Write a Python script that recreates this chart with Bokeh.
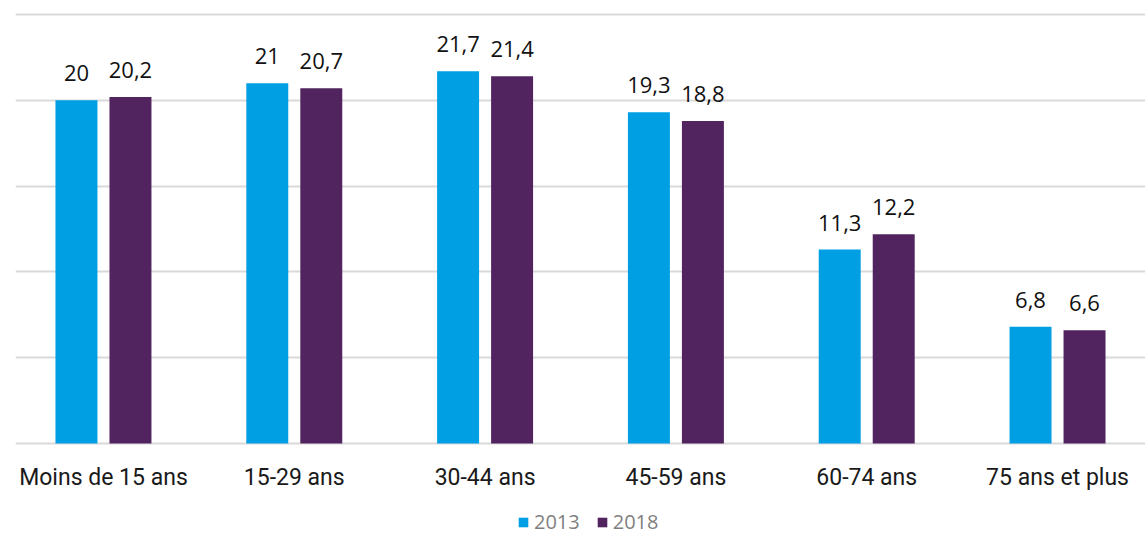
from bokeh.plotting import figure
from bokeh.models import ColumnDataSource, FactorRange, Range1d, FixedTicker, LabelSet, Legend, LegendItem
from bokeh.transform import dodge
from bokeh.embed import file_html
from bokeh.resources import INLINE
from bokeh.core.properties import value

categories = ["Moins de 15 ans", "15-29 ans", "30-44 ans", "45-59 ans", "60-74 ans", "75 ans et plus"]
v2013 = [20, 21, 21.7, 19.3, 11.3, 6.8]
v2018 = [20.2, 20.7, 21.4, 18.8, 12.2, 6.6]
series_names = ["2013", "2018"]
y_ticks = [0, 5, 10, 15, 20, 25]


def fmt(v):
    s = ("%.1f" % v).replace(".", ",")
    return s[:-2] if s.endswith(",0") else s


src = ColumnDataSource(dict(
    cat=categories,
    base=[y_ticks[0]] * len(categories),
    a=v2013, b=v2018,
    la=[fmt(v) for v in v2013], lb=[fmt(v) for v in v2018],
))

BLUE = "#009FE3"
PURPLE = "#52245F"
AXIS_FONT = "Roboto"
VALUE_FONT = "Open Sans"

p = figure(
    width=1145, height=535,
    x_range=FactorRange(*categories, range_padding=-0.013),
    y_range=Range1d(-5.361, 25.117),
    output_backend="svg", toolbar_location=None,
    min_border_left=15, min_border_right=0, min_border_top=12, min_border_bottom=0,
)
p.outline_line_color = None
p.background_fill_color = "white"
p.border_fill_color = "white"

OFF = 0.1415
BW = 0.22
r1 = p.vbar(x=dodge("cat", -OFF, range=p.x_range), top="a", width=BW, source=src,
            fill_color=BLUE, line_color=None)
r2 = p.vbar(x=dodge("cat", OFF, range=p.x_range), top="b", width=BW, source=src,
            fill_color=PURPLE, line_color=None)

for col, lab, off in (("a", "la", -OFF), ("b", "lb", OFF)):
    p.add_layout(LabelSet(x=dodge("cat", off, range=p.x_range), y=col, text=lab, source=src,
                          text_align="center", text_baseline="alphabetic", y_offset=19,
                          text_font=value(VALUE_FONT), text_font_size="22px", text_color="#111111"))

# category labels (drawn as text below the baseline)
p.add_layout(LabelSet(x="cat", y="base", text="cat", source=src,
                      text_align="center", text_baseline="alphabetic", y_offset=-41,
                      text_font=value(AXIS_FONT), text_font_size="23px", text_color="#1a1a1a"))

p.xgrid.grid_line_color = None
p.xaxis.visible = False
p.yaxis.visible = False
p.ygrid.ticker = FixedTicker(ticks=y_ticks)
p.ygrid.grid_line_color = "#D9D9D9"
p.ygrid.grid_line_width = 2

legend = Legend(
    items=[LegendItem(label=series_names[0], renderers=[r1]),
           LegendItem(label=series_names[1], renderers=[r2])],
    orientation="horizontal", location=(502, 0),
    glyph_width=12, glyph_height=12, label_standoff=5, spacing=16,
    padding=2, margin=0, border_line_color=None, background_fill_alpha=0,
    label_text_font="Open Sans", label_text_font_size="20px", label_text_color="#7F7F7F",
    label_height=20,
)
p.add_layout(legend, "center")

open("out.html", "w").write(file_html(p, INLINE))
